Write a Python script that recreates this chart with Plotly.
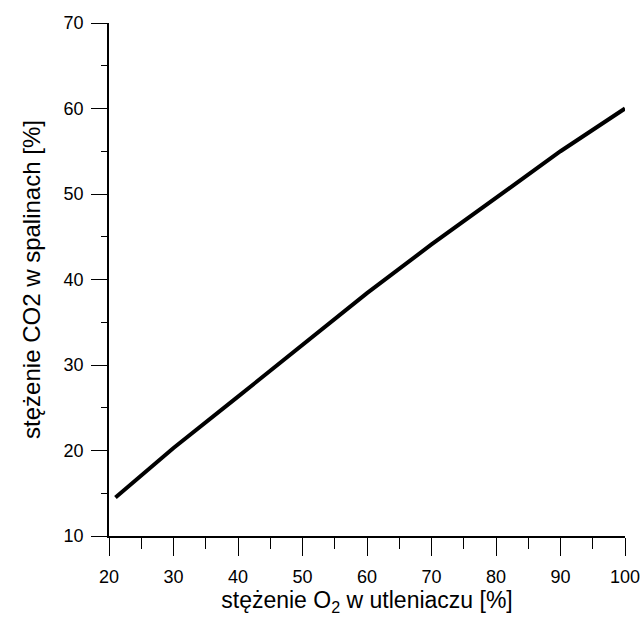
import plotly.graph_objects as go

# O2 concentration in the oxidizer [%] and resulting CO2 in flue gas [%]
o2_oxidizer = [21, 30, 40, 50, 60, 70, 80, 90, 100]
co2_flue = [14.5, 20.3, 26.3, 32.4, 38.4, 44.1, 49.5, 55.0, 60.0]

x_ticks = [20, 30, 40, 50, 60, 70, 80, 90, 100]
y_ticks = [10, 20, 30, 40, 50, 60, 70]

FONT = "Liberation Sans, Arial, sans-serif"

fig = go.Figure(
    go.Scatter(
        x=o2_oxidizer,
        y=co2_flue,
        mode="lines",
        line=dict(color="black", width=4),
        showlegend=False,
    )
)

fig.update_layout(
    width=644,
    height=640,
    margin=dict(l=109, r=19, t=23, b=104),
    paper_bgcolor="white",
    plot_bgcolor="white",
    font=dict(family=FONT, color="black"),
)

fig.update_xaxes(
    range=[20, 100],
    tickvals=x_ticks,
    ticktext=[str(v) for v in x_ticks],
    ticks="outside",
    ticklen=18,
    tickwidth=1.2,
    tickcolor="black",
    minor=dict(dtick=5, ticks="outside", ticklen=11, tickwidth=1.2, tickcolor="black"),
    showline=True,
    linecolor="black",
    linewidth=1.5,
    showgrid=False,
    zeroline=False,
    automargin=False,
    ticklabelstandoff=6,
    tickfont=dict(size=18, family=FONT),
    title=dict(
        text="stężenie O<sub>2</sub> w utleniaczu [%]",
        font=dict(size=23, family=FONT),
        standoff=6,
    ),
)

fig.update_yaxes(
    range=[10, 70],
    tickvals=y_ticks,
    ticktext=[str(v) for v in y_ticks],
    ticks="outside",
    ticklen=16,
    tickwidth=1.2,
    tickcolor="black",
    minor=dict(dtick=5, ticks="outside", ticklen=6, tickwidth=1.2, tickcolor="black"),
    showline=True,
    linecolor="black",
    linewidth=1.5,
    showgrid=False,
    zeroline=False,
    automargin=False,
    ticklabelstandoff=4,
    tickfont=dict(size=18, family=FONT),
    title=dict(
        text="stężenie CO2 w spalinach [%]",
        font=dict(size=24, family=FONT),
        standoff=16,
    ),
)

fig.write_html("out.html")
